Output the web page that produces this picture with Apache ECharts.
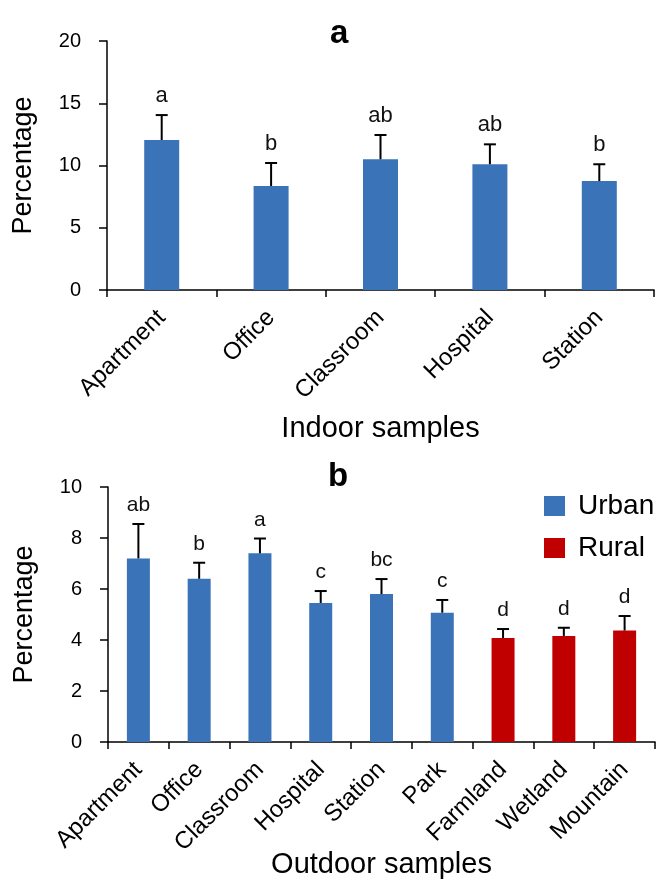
<!DOCTYPE html>
<html>
<head>
<meta charset="utf-8">
<script src="https://cdn.jsdelivr.net/npm/echarts@6/dist/echarts.min.js"></script>
<style>
  html, body { margin: 0; padding: 0; background: #fff; }
  #chart { width: 659px; height: 883px; }
</style>
</head>
<body>
<div id="chart"></div>
<script>
// panel a - indoor
const indoorCats = ['Apartment', 'Office', 'Classroom', 'Hospital', 'Station']
const indoorMean = [12.05, 8.35, 10.5, 10.1, 8.75]
const indoorErr = [2.0, 1.85, 1.95, 1.6, 1.35]
const indoorLetters = ['a', 'b', 'ab', 'ab', 'b']

// panel b - outdoor
const outdoorCats = ['Apartment', 'Office', 'Classroom', 'Hospital', 'Station', 'Park', 'Farmland', 'Wetland', 'Mountain']
const urbanMean = [7.2, 6.4, 7.4, 5.45, 5.8, 5.07, '-', '-', '-']
const ruralMean = ['-', '-', '-', '-', '-', '-', 4.08, 4.16, 4.37]
const outdoorErr = [1.35, 0.63, 0.58, 0.47, 0.59, 0.5, 0.35, 0.32, 0.57]
const outdoorLetters = ['ab', 'b', 'a', 'c', 'bc', 'c', 'd', 'd', 'd']

const indoorTicks = { min: 0, max: 20, interval: 5 }
const outdoorTicks = { min: 0, max: 10, interval: 2 }

const FONT = "'Liberation Sans', Arial, sans-serif"
const BLUE = '#3B73B9'
const RED = '#C00000'

function meanOf(i, arrs) {
	for (let a of arrs) if (a[i] !== '-') return a[i]
	return 0
}

function errorSeries(idx, means, errs, letters, fontSize) {
	return {
		type: 'custom',
		xAxisIndex: idx, yAxisIndex: idx,
		z: 5,
		data: means.map((m, i) => [i, m, m + errs[i]]),
		renderItem: (params, api) => {
			const i = api.value(0)
			const base = api.coord([i, api.value(1)])
			const top = api.coord([i, api.value(2)])
			const cap = 6
			return {
				type: 'group',
				children: [
					{ type: 'line', shape: { x1: base[0], y1: base[1], x2: top[0], y2: top[1] },
						style: { stroke: '#000', lineWidth: 2 } },
					{ type: 'line', shape: { x1: top[0] - cap, y1: top[1], x2: top[0] + cap, y2: top[1] },
						style: { stroke: '#000', lineWidth: 2 } },
					{ type: 'text', x: top[0], y: top[1] - 8,
						style: { text: letters[i], fill: '#111', font: fontSize + 'px ' + FONT,
							align: 'center', verticalAlign: 'bottom' } }
				]
			}
		}
	}
}

const yAxisCommon = {
	type: 'value',
	name: 'Percentage',
	nameLocation: 'middle',
	nameRotate: 90,
	nameGap: 70,
	nameMoveOverlap: false,
	nameTextStyle: { fontSize: 27, color: '#000', fontFamily: FONT },
	splitLine: { show: false },
	axisLine: { show: true, lineStyle: { color: '#000', width: 1.5 } },
	axisTick: { show: true, length: 8, lineStyle: { color: '#000', width: 1.5 } },
	axisLabel: { fontSize: 20, color: '#000', margin: 26, fontFamily: FONT }
}

const xAxisCommon = {
	type: 'category',
	nameLocation: 'middle',
	nameMoveOverlap: false,
	nameTextStyle: { fontSize: 29, color: '#000', fontFamily: FONT },
	axisLine: { lineStyle: { color: '#000', width: 1.5 } },
	axisTick: { show: true, length: 7, lineStyle: { color: '#000', width: 1.5 } },
	axisLabel: { rotate: 45, fontSize: 24, color: '#000', margin: 24, interval: 0, fontFamily: FONT }
}

const option = {
	backgroundColor: '#fff',
	animation: false,
	title: [
		{ text: 'a', left: 325, top: 12, textStyle: { fontSize: 33, fontWeight: 'bold', color: '#000', fontFamily: FONT } },
		{ text: 'b', left: 323, top: 455, textStyle: { fontSize: 33, fontWeight: 'bold', color: '#000', fontFamily: FONT } }
	],
	legend: {
		orient: 'vertical',
		left: 539, top: 487,
		itemWidth: 21, itemHeight: 20, itemGap: 14,
		icon: 'rect',
		data: ['Urban', 'Rural'],
		textStyle: { fontSize: 28, color: '#000', fontFamily: FONT, padding: [0, 0, 0, 8] }
	},
	grid: [
		{ left: 107, top: 41, width: 547, height: 249, outerBoundsMode: 'none' },
		{ left: 108, top: 487, width: 547, height: 255, outerBoundsMode: 'none' }
	],
	xAxis: [
		Object.assign({}, xAxisCommon, { gridIndex: 0, data: indoorCats, name: 'Indoor samples', nameGap: 124 }),
		Object.assign({}, xAxisCommon, { gridIndex: 1, data: outdoorCats, name: 'Outdoor samples', nameGap: 108 })
	],
	yAxis: [
		Object.assign({}, yAxisCommon, { gridIndex: 0 }, indoorTicks),
		Object.assign({}, yAxisCommon, { gridIndex: 1 }, outdoorTicks)
	],
	series: [
		{ type: 'bar', xAxisIndex: 0, yAxisIndex: 0, data: indoorMean, barWidth: 35, itemStyle: { color: BLUE } },
		errorSeries(0, indoorMean, indoorErr, indoorLetters, 22),
		{ name: 'Urban', type: 'bar', stack: 'out', xAxisIndex: 1, yAxisIndex: 1, data: urbanMean, barWidth: 23, itemStyle: { color: BLUE } },
		{ name: 'Rural', type: 'bar', stack: 'out', xAxisIndex: 1, yAxisIndex: 1, data: ruralMean, barWidth: 23, itemStyle: { color: RED } },
		errorSeries(1, outdoorCats.map((c, i) => meanOf(i, [urbanMean, ruralMean])), outdoorErr, outdoorLetters, 21)
	]
}

const myChart = echarts.init(document.getElementById('chart'))
myChart.setOption(option)
</script>
</body>
</html>
